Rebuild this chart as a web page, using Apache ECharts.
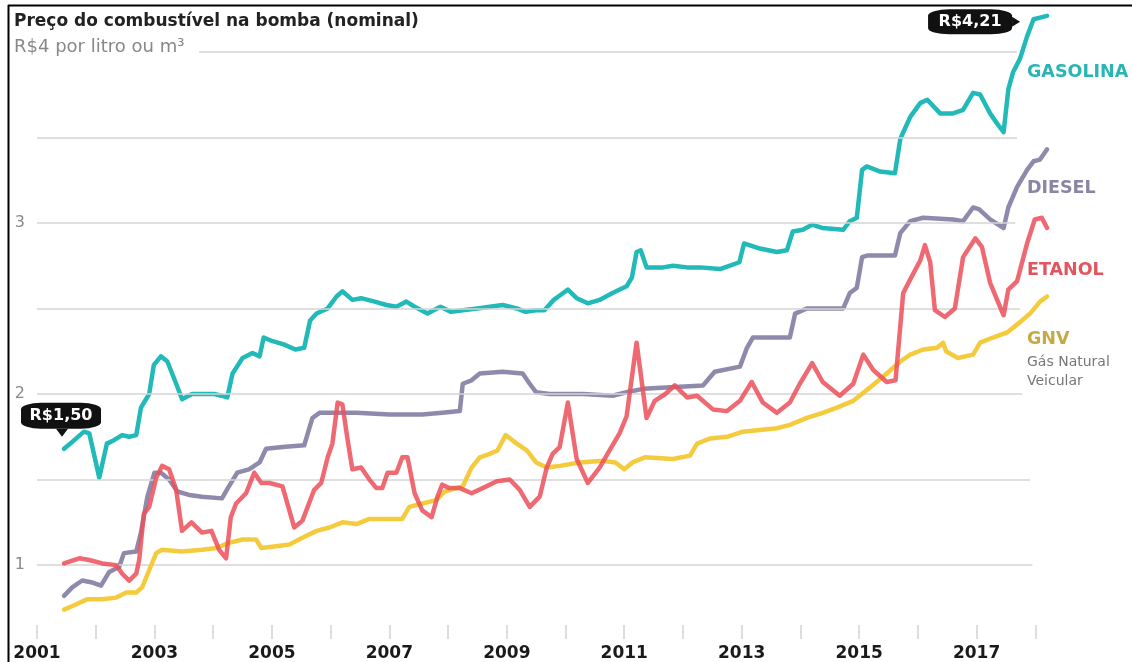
<!DOCTYPE html>
<html>
<head>
<meta charset="utf-8">
<script src="https://cdn.jsdelivr.net/npm/echarts@6/dist/echarts.min.js"></script>
<style>
html, body { margin: 0; padding: 0; background: #fff; }
#main { width: 1132px; height: 662px; }
</style>
</head>
<body>
<div id="main"></div>
<script>
// [ano, R$]
var gasolina = [
  [2001.46,1.68],[2001.6,1.72],[2001.8,1.78],[2001.89,1.77],[2002.06,1.51],[2002.19,1.71],[2002.31,1.73],
  [2002.45,1.76],[2002.57,1.75],[2002.69,1.76],[2002.77,1.92],[2002.91,2.0],[2002.99,2.17],[2003.11,2.22],
  [2003.22,2.19],[2003.37,2.06],[2003.47,1.97],[2003.64,2.0],[2003.81,2.0],[2004.02,2.0],[2004.14,1.99],
  [2004.24,1.98],[2004.33,2.12],[2004.5,2.21],[2004.67,2.24],[2004.79,2.22],[2004.86,2.33],[2005.0,2.31],
  [2005.2,2.29],[2005.4,2.26],[2005.55,2.27],[2005.65,2.43],[2005.76,2.47],[2005.95,2.5],[2006.1,2.57],
  [2006.2,2.6],[2006.37,2.55],[2006.52,2.56],[2006.75,2.54],[2006.95,2.52],[2007.12,2.51],[2007.29,2.54],
  [2007.43,2.51],[2007.65,2.47],[2007.87,2.51],[2008.05,2.48],[2008.25,2.49],[2008.5,2.5],[2008.71,2.51],
  [2008.93,2.52],[2009.17,2.5],[2009.32,2.48],[2009.5,2.49],[2009.64,2.49],[2009.8,2.55],[2009.92,2.58],
  [2010.04,2.61],[2010.19,2.56],[2010.38,2.53],[2010.58,2.55],[2010.8,2.59],[2011.04,2.63],[2011.13,2.68],
  [2011.21,2.83],[2011.28,2.84],[2011.38,2.74],[2011.66,2.74],[2011.83,2.75],[2012.07,2.74],[2012.29,2.74],
  [2012.63,2.73],[2012.8,2.75],[2012.96,2.77],[2013.04,2.88],[2013.31,2.85],[2013.6,2.83],[2013.77,2.84],
  [2013.87,2.95],[2014.04,2.96],[2014.2,2.99],[2014.38,2.97],[2014.73,2.96],[2014.84,3.01],[2014.96,3.03],
  [2015.05,3.31],[2015.13,3.33],[2015.36,3.3],[2015.61,3.29],[2015.7,3.49],[2015.87,3.62],[2016.04,3.7],
  [2016.16,3.72],[2016.38,3.64],[2016.6,3.64],[2016.77,3.66],[2016.94,3.76],[2017.06,3.75],[2017.23,3.64],
  [2017.35,3.58],[2017.46,3.53],[2017.54,3.78],[2017.62,3.88],[2017.74,3.96],[2017.86,4.09],[2017.97,4.19],
  [2018.08,4.2],[2018.2,4.21]
];
var diesel = [
  [2001.46,0.82],[2001.6,0.87],[2001.77,0.91],[2001.92,0.9],[2002.09,0.88],[2002.23,0.96],[2002.4,0.99],
  [2002.48,1.07],[2002.69,1.08],[2002.77,1.19],[2002.88,1.4],[2003.0,1.54],[2003.11,1.54],[2003.25,1.5],
  [2003.39,1.43],[2003.59,1.41],[2003.81,1.4],[2004.15,1.39],[2004.25,1.45],[2004.41,1.54],[2004.61,1.56],
  [2004.79,1.6],[2004.9,1.68],[2005.18,1.69],[2005.55,1.7],[2005.69,1.86],[2005.81,1.89],[2006.44,1.89],
  [2007.0,1.88],[2007.56,1.88],[2007.9,1.89],[2008.2,1.9],[2008.25,2.06],[2008.4,2.08],[2008.54,2.12],
  [2008.93,2.13],[2009.27,2.12],[2009.39,2.06],[2009.5,2.01],[2009.73,2.0],[2010.3,2.0],[2010.8,1.99],
  [2011.04,2.01],[2011.32,2.03],[2012.34,2.05],[2012.54,2.13],[2012.97,2.16],[2013.09,2.27],[2013.19,2.33],
  [2013.82,2.33],[2013.91,2.47],[2014.11,2.5],[2014.73,2.5],[2014.84,2.59],[2014.96,2.62],[2015.05,2.8],
  [2015.15,2.81],[2015.61,2.81],[2015.7,2.94],[2015.87,3.01],[2016.09,3.03],[2016.6,3.02],[2016.77,3.01],
  [2016.94,3.09],[2017.04,3.08],[2017.23,3.02],[2017.46,2.97],[2017.54,3.09],[2017.69,3.21],[2017.86,3.31],
  [2017.97,3.36],[2018.08,3.37],[2018.2,3.43]
];
var etanol = [
  [2001.46,1.01],[2001.72,1.04],[2001.89,1.03],[2002.11,1.01],[2002.35,1.0],[2002.45,0.95],[2002.57,0.91],
  [2002.69,0.95],[2002.74,1.03],[2002.82,1.3],[2002.91,1.34],[2003.03,1.51],[2003.13,1.58],[2003.25,1.56],
  [2003.37,1.44],[2003.47,1.2],[2003.63,1.25],[2003.81,1.19],[2003.97,1.2],[2004.1,1.09],[2004.22,1.04],
  [2004.3,1.28],[2004.39,1.36],[2004.56,1.42],[2004.7,1.54],[2004.82,1.48],[2004.96,1.48],[2005.18,1.46],
  [2005.38,1.22],[2005.52,1.26],[2005.72,1.44],[2005.84,1.48],[2005.95,1.63],[2006.03,1.71],[2006.12,1.95],
  [2006.2,1.94],[2006.29,1.73],[2006.37,1.56],[2006.52,1.57],[2006.66,1.5],[2006.78,1.45],[2006.88,1.45],
  [2006.97,1.54],[2007.12,1.54],[2007.22,1.63],[2007.31,1.63],[2007.43,1.42],[2007.56,1.32],[2007.72,1.28],
  [2007.82,1.4],[2007.9,1.47],[2008.02,1.45],[2008.2,1.45],[2008.4,1.42],[2008.59,1.45],[2008.83,1.49],
  [2009.05,1.5],[2009.22,1.44],[2009.39,1.34],[2009.56,1.4],[2009.68,1.57],[2009.78,1.65],[2009.9,1.69],
  [2010.04,1.95],[2010.19,1.62],[2010.38,1.48],[2010.58,1.57],[2010.75,1.67],[2010.92,1.77],[2011.04,1.87],
  [2011.21,2.3],[2011.38,1.86],[2011.52,1.96],[2011.7,2.0],[2011.86,2.05],[2012.07,1.98],[2012.24,1.99],
  [2012.51,1.91],[2012.75,1.9],[2012.97,1.96],[2013.17,2.07],[2013.36,1.95],[2013.6,1.89],[2013.82,1.95],
  [2013.99,2.06],[2014.2,2.18],[2014.38,2.07],[2014.67,1.99],[2014.9,2.06],[2015.07,2.23],[2015.24,2.14],
  [2015.47,2.07],[2015.62,2.08],[2015.75,2.59],[2015.87,2.67],[2016.04,2.78],[2016.12,2.87],[2016.21,2.77],
  [2016.29,2.49],[2016.46,2.45],[2016.63,2.5],[2016.77,2.8],[2016.98,2.91],[2017.09,2.86],[2017.23,2.65],
  [2017.35,2.55],[2017.46,2.46],[2017.54,2.61],[2017.69,2.66],[2017.86,2.88],[2017.99,3.02],[2018.11,3.03],
  [2018.2,2.97]
];
var gnv = [
  [2001.46,0.74],[2001.66,0.77],[2001.85,0.8],[2002.11,0.8],[2002.35,0.81],[2002.52,0.84],[2002.69,0.84],
  [2002.79,0.87],[2002.91,0.97],[2003.03,1.07],[2003.13,1.09],[2003.47,1.08],[2003.81,1.09],[2004.05,1.1],
  [2004.27,1.13],[2004.5,1.15],[2004.73,1.15],[2004.82,1.1],[2005.07,1.11],[2005.3,1.12],[2005.52,1.16],
  [2005.76,1.2],[2005.98,1.22],[2006.2,1.25],[2006.44,1.24],[2006.66,1.27],[2007.22,1.27],[2007.34,1.34],
  [2007.56,1.36],[2007.8,1.38],[2007.94,1.43],[2008.25,1.46],[2008.4,1.57],[2008.54,1.63],[2008.71,1.65],
  [2008.84,1.67],[2008.98,1.76],[2009.17,1.71],[2009.34,1.67],[2009.5,1.6],[2009.68,1.57],[2009.9,1.58],
  [2010.24,1.6],[2010.63,1.61],[2010.85,1.6],[2011.0,1.56],[2011.14,1.6],[2011.35,1.63],[2011.83,1.62],
  [2012.12,1.64],[2012.24,1.71],[2012.46,1.74],[2012.75,1.75],[2013.02,1.78],[2013.31,1.79],[2013.6,1.8],
  [2013.82,1.82],[2014.11,1.86],[2014.38,1.89],[2014.62,1.92],[2014.9,1.96],[2015.19,2.04],[2015.47,2.12],
  [2015.7,2.19],[2015.87,2.23],[2016.09,2.26],[2016.33,2.27],[2016.43,2.3],[2016.48,2.25],[2016.68,2.21],
  [2016.94,2.23],[2017.06,2.3],[2017.28,2.33],[2017.52,2.36],[2017.74,2.42],[2017.91,2.47],[2018.08,2.54],
  [2018.2,2.57]
];

var yearTicks = [2001,2002,2003,2004,2005,2006,2007,2008,2009,2010,2011,2012,2013,2014,2015,2016,2017,2018];
var yearLabels = [2001,2003,2005,2007,2009,2011,2013,2015,2017];
var gridValues = [1, 1.5, 2, 2.5, 3, 3.5, 4];
var gridStart = [2001, 2001, 2001, 2001, 2001, 2001, 2003.76];
var gridEnd = [2017.95, 2017.91, 2017.78, 2017.74, 2017.66, 2017.69, 2017.69];
var yLabels = { 1: '1', 2: '2', 3: '3' };
var callouts = ['R$1,50', 'R$4,21'];

var FONT = 'DejaVu Sans';
var myChart = echarts.init(document.getElementById('main'));

var gridLines = gridValues.map(function (v, i) {
  return [
    { coord: [gridStart[i], v], label: { show: !!yLabels[v], formatter: yLabels[v] || '' } },
    { coord: [gridEnd[i], v] }
  ];
});

function lineSeries(name, data, color, opacity, z) {
  return {
    name: name,
    type: 'line',
    data: data,
    z: z,
    showSymbol: false,
    symbol: 'none',
    silent: true,
    animation: false,
    lineStyle: { color: color, width: 4.5, opacity: opacity, cap: 'round', join: 'round' },
    emphasis: { disabled: true }
  };
}

var gas = lineSeries('Gasolina', gasolina, '#22b9b9', 1, 3);
var first = gasolina[0];
var last = gasolina[gasolina.length - 1];
gas.markPoint = {
  silent: true,
  animation: false,
  data: [
    { coord: first, name: callouts[0], symbol: 'roundRect', symbolSize: [80, 26], symbolOffset: [-3, -33],
      itemStyle: { color: '#111' },
      label: { show: true, position: 'inside', formatter: '{b}', color: '#fff', fontWeight: 'bold', fontSize: 16, fontFamily: FONT } },
    { coord: first, symbol: 'path://M0,0L12,0L6,8Z', symbolSize: [12, 8], symbolOffset: [-2, -16],
      itemStyle: { color: '#111' }, label: { show: false } },
    { coord: last, name: callouts[1], symbol: 'roundRect', symbolSize: [84, 25], symbolOffset: [-77, 6],
      itemStyle: { color: '#111' },
      label: { show: true, position: 'inside', formatter: '{b}', color: '#fff', fontWeight: 'bold', fontSize: 16, fontFamily: FONT } },
    { coord: last, symbol: 'path://M0,0L8,5L0,10Z', symbolSize: [8, 10], symbolOffset: [-31, 6],
      itemStyle: { color: '#111' }, label: { show: false } }
  ]
};

option = {
  backgroundColor: '#fff',
  grid: { left: 37, right: 82, top: 9, bottom: 37 },
  xAxis: {
    type: 'value',
    min: 2001,
    max: 2018.25,
    interval: 1,
    axisLine: { show: false },
    splitLine: { show: false },
    axisTick: { show: true, length: 14, customValues: yearTicks, lineStyle: { color: '#d2d2d2', width: 1.5 } },
    axisLabel: {
      customValues: yearLabels,
      margin: 20,
      color: '#1a1a1a',
      fontSize: 17,
      fontWeight: 'bold',
      fontFamily: FONT,
      formatter: function (v) { return v % 2 === 1 ? String(v) : ''; }
    }
  },
  yAxis: { type: 'value', min: 0.65, max: 4.25, show: false },
  series: [
    {
      type: 'line',
      data: [],
      z: 1,
      silent: true,
      markLine: {
        silent: true,
        animation: false,
        symbol: ['none', 'none'],
        lineStyle: { color: '#d5d5d5', width: 1.5, type: 'solid' },
        label: { position: 'start', distance: 12, color: '#8a8a8a', fontSize: 16, fontFamily: FONT },
        emphasis: { disabled: true },
        data: gridLines
      }
    },
    gas,
    lineSeries('Diesel', diesel, '#8984a8', 0.95, 4),
    lineSeries('GNV', gnv, '#f4c834', 0.95, 5),
    lineSeries('Etanol', etanol, '#ec4f5a', 0.85, 6)
  ],
  graphic: [
    { type: 'line', z: 100, shape: { x1: 8.5, y1: 5, x2: 8.5, y2: 662 }, style: { stroke: '#000', lineWidth: 2 } },
    { type: 'line', z: 100, shape: { x1: 8, y1: 5.5, x2: 1132, y2: 5.5 }, style: { stroke: '#000', lineWidth: 2 } },
    { type: 'text', left: 14, top: 13, style: { text: 'Preço do combustível na bomba (nominal)', font: 'bold 17px "DejaVu Sans"', fill: '#222' } },
    { type: 'text', left: 14, top: 38, style: { text: 'R$4 por litro ou m³', font: '18px "DejaVu Sans"', fill: '#888' } },
    { type: 'text', left: 1027, top: 63, style: { text: 'GASOLINA', font: 'bold 17.5px "DejaVu Sans"', fill: '#2ab4b5' } },
    { type: 'text', left: 1027, top: 179, style: { text: 'DIESEL', font: 'bold 17.5px "DejaVu Sans"', fill: '#8985a4' } },
    { type: 'text', left: 1027, top: 261, style: { text: 'ETANOL', font: 'bold 17.5px "DejaVu Sans"', fill: '#e2545e' } },
    { type: 'text', left: 1027, top: 330, style: { text: 'GNV', font: 'bold 17.5px "DejaVu Sans"', fill: '#c6a942' } },
    { type: 'text', left: 1027, top: 355, style: { text: 'Gás Natural', font: '14px "DejaVu Sans"', fill: '#777' } },
    { type: 'text', left: 1027, top: 374, style: { text: 'Veicular', font: '14px "DejaVu Sans"', fill: '#777' } }
  ]
};
myChart.setOption(option);

window.onresize = function () {
  myChart.resize();
};
</script>
</body>
</html>
